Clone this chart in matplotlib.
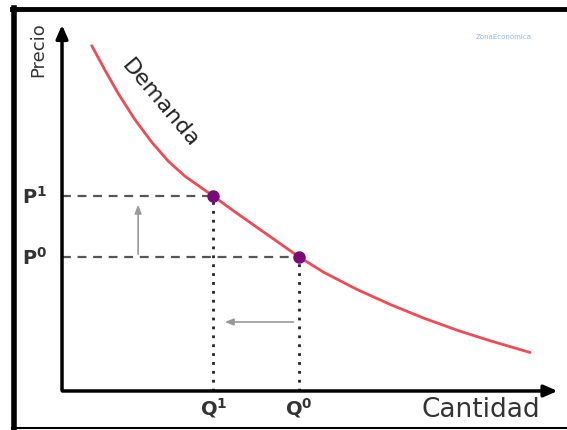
import matplotlib
matplotlib.use('Agg')
import matplotlib.pyplot as plt
from matplotlib.lines import Line2D

plt.rcParams['font.family'] = ['DejaVu Sans']
plt.rcParams['mathtext.fontset'] = 'dejavusans'

# curva de demanda
demanda_q = [0.605, 0.876, 1.147, 1.487, 1.827, 2.165, 2.505, 2.845, 3.08, 3.523, 4.00, 4.405, 4.83,
             5.322, 6.002, 6.68, 7.358, 8.039, 8.717, 9.532]
demanda_p = [9.41, 8.74, 8.10, 7.39, 6.78, 6.26, 5.85, 5.53, 5.31, 4.88, 4.43, 4.05, 3.65,
             3.24, 2.77, 2.36, 1.99, 1.66, 1.37, 1.05]

# equilibrios
q_vals = [3.08, 4.83]
p_vals = [5.31, 3.65]
q_labels = [r'$\mathbf{Q^1}$', r'$\mathbf{Q^0}$']
p_labels = [r'$\mathbf{P^1}$', r'$\mathbf{P^0}$']

fig = plt.figure(figsize=(5.67, 4.31), dpi=100)
ax = fig.add_axes([0, 0, 1, 1])
ax.set_xlim(-1.263, 10.285)
ax.set_ylim(-1.063, 10.68)
ax.axis('off')

# marco
fig.add_artist(Line2D([0.024, 0.024], [0.004, 0.979], color='black', lw=4, transform=fig.transFigure))
fig.add_artist(Line2D([0.022, 1.0], [0.977, 0.977], color='black', lw=3.5, transform=fig.transFigure))
fig.add_artist(Line2D([0.022, 1.0], [0.005, 0.005], color='black', lw=1.5, transform=fig.transFigure))

# ejes con flechas
ax.annotate('', xy=(10.15, 0), xytext=(-0.05, 0),
            arrowprops=dict(arrowstyle='-|>,head_length=0.8,head_width=0.35', color='black', lw=2.5))
ax.annotate('', xy=(0, 10.05), xytext=(0, -0.05),
            arrowprops=dict(arrowstyle='-|>,head_length=0.8,head_width=0.35', color='black', lw=2.5))

# líneas guía
for q, p in zip(q_vals, p_vals):
    ax.plot([0, q], [p, p], color='#555555', lw=1.6, ls=(0, (4, 3)))
    ax.plot([q, q], [0, p], color='#222222', lw=2, ls=(0, (1, 2.2)))

# flechas de desplazamiento
ax.annotate('', xy=(1.55, 5.15), xytext=(1.55, p_vals[1]),
            arrowprops=dict(arrowstyle='-|>,head_length=0.5,head_width=0.2', color='#999999', lw=1.2))
ax.annotate('', xy=(3.26, 1.88), xytext=(4.77, 1.88),
            arrowprops=dict(arrowstyle='-|>,head_length=0.5,head_width=0.2', color='#999999', lw=1.2))

# curva
ax.plot(demanda_q, demanda_p, color='#EE4B55', lw=2, solid_capstyle='round', solid_joinstyle='round')
ax.plot(q_vals, p_vals, 'o', color='#7A0A7A', ms=8)

# textos
for q, lab in zip(q_vals, q_labels):
    ax.text(q, -0.45, lab, ha='center', va='center', fontsize=14, color='#333333')
for p, lab in zip(p_vals, p_labels):
    ax.text(-0.55, p, lab, ha='center', va='center', fontsize=14, color='#333333')

ax.text(8.53, -0.5, 'Cantidad', ha='center', va='center', fontsize=19, color='#333333')
ax.text(-0.49, 9.32, 'Precio', ha='center', va='center', rotation=90, fontsize=13, color='#333333')
ax.text(2.0, 7.85, 'Demanda', ha='center', va='center', rotation=-50, rotation_mode='anchor',
        fontsize=16, color='#222222')
ax.text(9.0, 9.67, 'ZonaEconomica', ha='center', va='center', fontsize=5, color='#8FB4DA')

fig.savefig('out.png', dpi=100)
